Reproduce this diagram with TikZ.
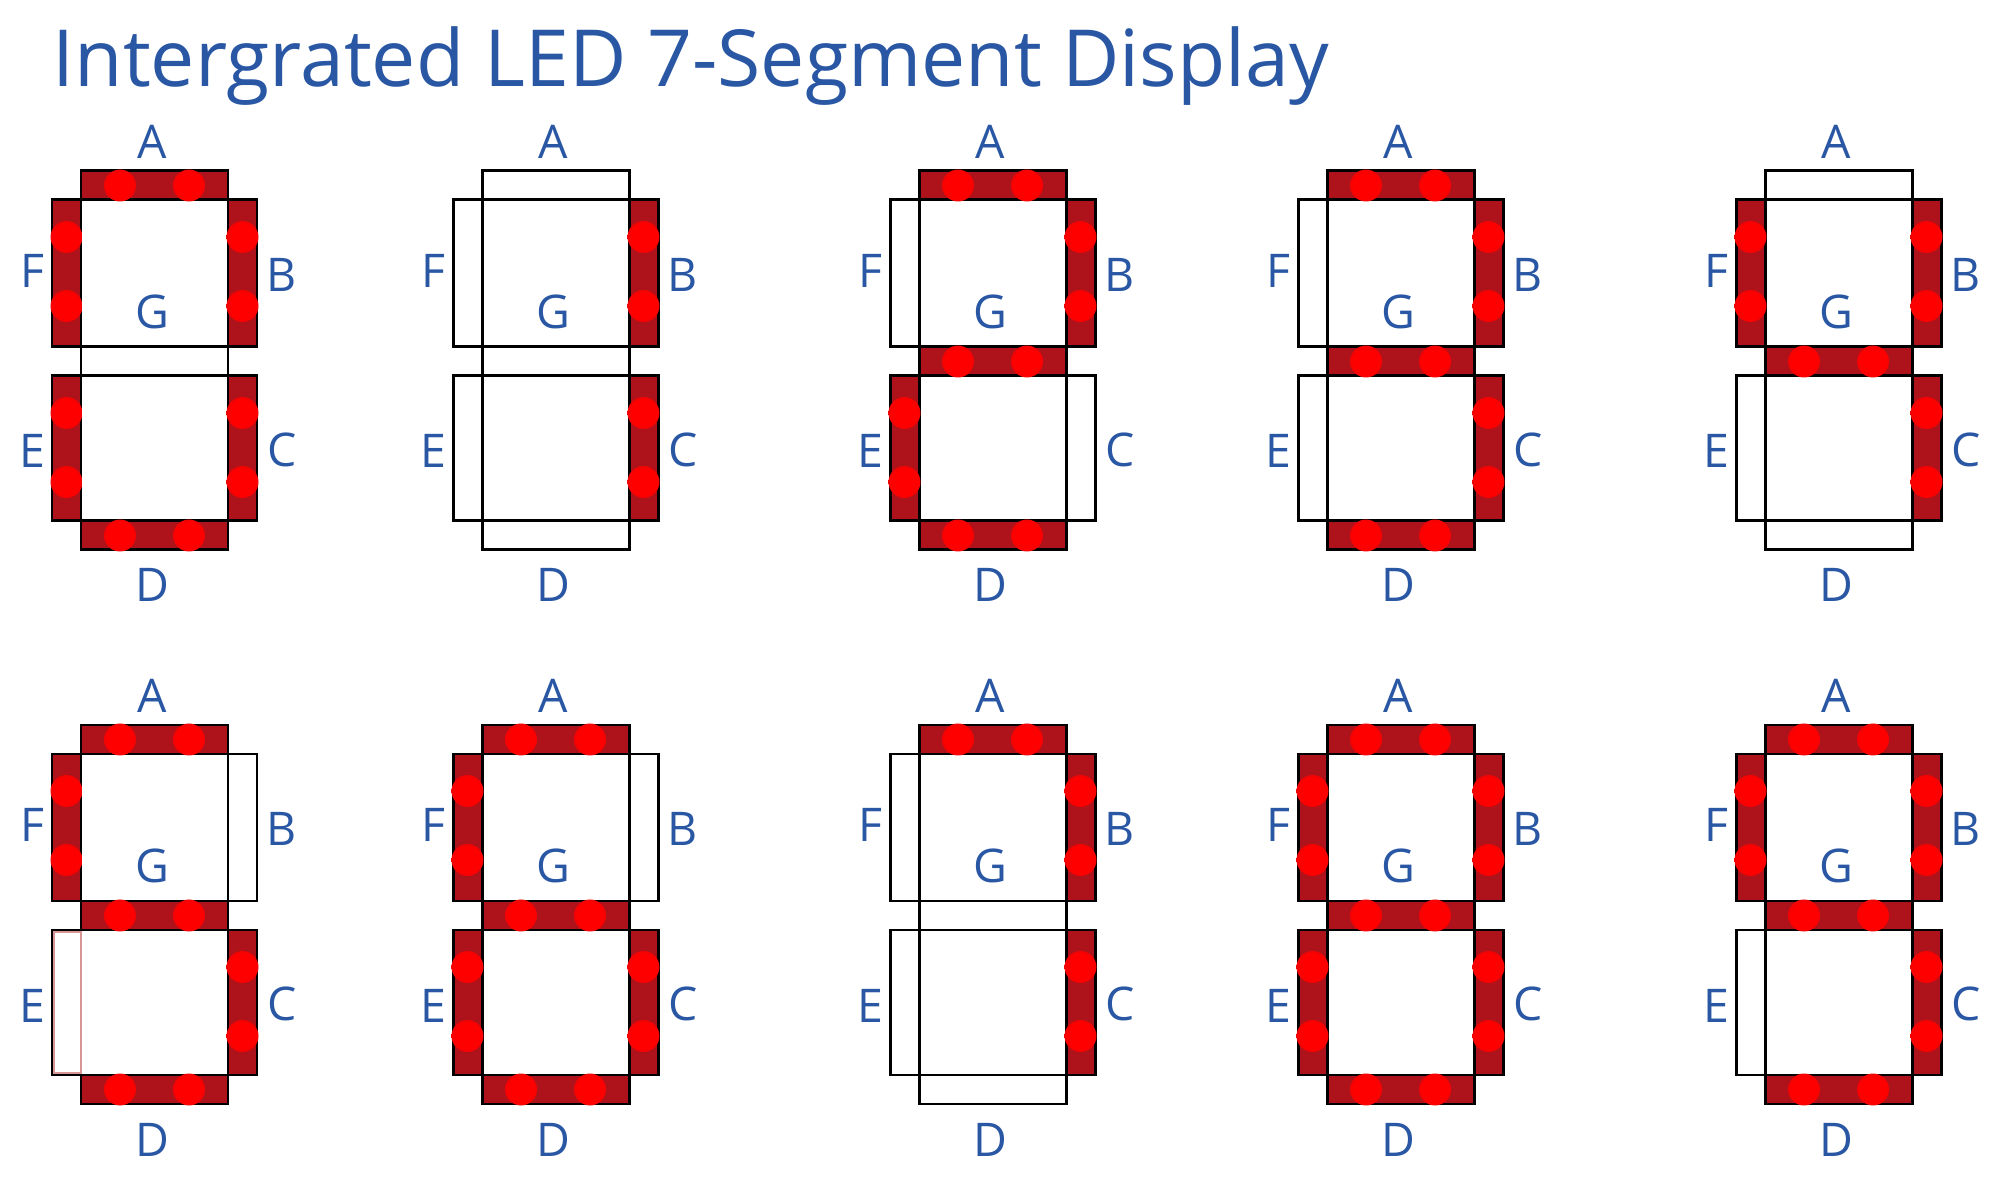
\documentclass[tikz,border=0pt]{standalone}
\usepackage{fontspec}
\setmainfont{Open Sans}
\usepackage{tikz}

\definecolor{segred}{RGB}{174,18,26}
\definecolor{ledred}{RGB}{255,0,0}
\definecolor{labelblue}{RGB}{41,87,164}
\definecolor{ledpink}{RGB}{214,150,150}
\pgfdeclareradialshading{ledglow}{\pgfpoint{0bp}{0bp}}{color(0bp)=(ledred); color(20bp)=(ledred); color(50bp)=(segred)}

\tikzset{
  offseg/.style={draw=black, fill=white, line width=0.85pt},
  litseg/.style={draw=black, fill=segred, line width=0.85pt},
  faintseg/.style={draw=ledpink, fill=white, line width=0.4pt},
  ledspot/.style={shading=ledglow},
  seglabel/.style={text=labelblue, font=\fontsize{13.2}{16}\selectfont, anchor=base, inner sep=0pt},
}

% segments of one digit, (0,0) = top left corner
\newcommand{\segA}[1]{\path[#1] (29,0) rectangle (176,29);}
\newcommand{\segB}[1]{\path[#1] (176,29) rectangle (205,176);}
\newcommand{\segC}[1]{\path[#1] (176,205) rectangle (205,350);}
\newcommand{\segD}[1]{\path[#1] (29,350) rectangle (176,379);}
\newcommand{\segE}[1]{\path[#1] (0,205) rectangle (29,350);}
\newcommand{\segF}[1]{\path[#1] (0,29) rectangle (29,176);}
\newcommand{\segG}[1]{\path[#1] (29,176) rectangle (176,205);}

% the two leds in a lit segment
\newcommand{\hglow}[1]{\shade[ledspot] (68,#1+14.5) circle (16); \shade[ledspot] (137,#1+14.5) circle (16);}
\newcommand{\vglow}[2]{\shade[ledspot] (#1+14.5,#2+37) circle (16); \shade[ledspot] (#1+14.5,#2+106) circle (16);}
\newcommand{\glowA}{\hglow{0}}
\newcommand{\glowG}{\hglow{176}}
\newcommand{\glowD}{\hglow{350}}
\newcommand{\glowF}{\vglow{0}{29}}
\newcommand{\glowB}{\vglow{176}{29}}
\newcommand{\glowE}{\vglow{0}{205}}
\newcommand{\glowC}{\vglow{176}{205}}

% #1 name, #2 left, #3 top, #4 lit segments
\newcommand{\sevenseg}[4]{%
  \begin{scope}[shift={(#2,#3)}]
    \foreach \s in {A,B,C,D,E,F,G} {\csname seg\s\endcsname{offseg}}
    \foreach \s in {#4} {\csname seg\s\endcsname{litseg}\csname glow\s\endcsname}
    \node[seglabel] (#1A) at (100,-12) {A};
    \node[seglabel] (#1B) at (230,121) {B};
    \node[seglabel] (#1C) at (230,296) {C};
    \node[seglabel] (#1D) at (100,431) {D};
    \node[seglabel] (#1E) at (-20,297) {E};
    \node[seglabel] (#1F) at (-20,117) {F};
    \node[seglabel] (#1G) at (100,158) {G};
  \end{scope}}

\begin{document}
\begin{tikzpicture}[x=0.01cm, y=-0.01cm]
  \useasboundingbox (0,0) rectangle (2000,1192);
  \node[anchor=base west, text=labelblue, font=\fontsize{22.4}{27}\selectfont, inner sep=0pt] (title) at (52,87) {Intergrated LED 7-Segment Display};

  % top row
  \sevenseg{zero}{52}{171}{A,B,C,D,E,F}
  \sevenseg{one}{453}{171}{B,C}
  \sevenseg{two}{890}{171}{A,B,G,E,D}
  \sevenseg{three}{1298}{171}{A,B,G,C,D}
  \sevenseg{four}{1736}{171}{F,B,G,C}

  % bottom row
  \sevenseg{five}{52}{725}{A,F,G,C,D}
  \path[faintseg] (54,932) rectangle (81,1073);
  \sevenseg{six}{453}{725}{A,F,G,E,C,D}
  \sevenseg{seven}{890}{725}{A,B,C}
  \sevenseg{eight}{1298}{725}{A,B,C,D,E,F,G}
  \sevenseg{nine}{1736}{725}{A,B,C,D,F,G}
\end{tikzpicture}
\end{document}
